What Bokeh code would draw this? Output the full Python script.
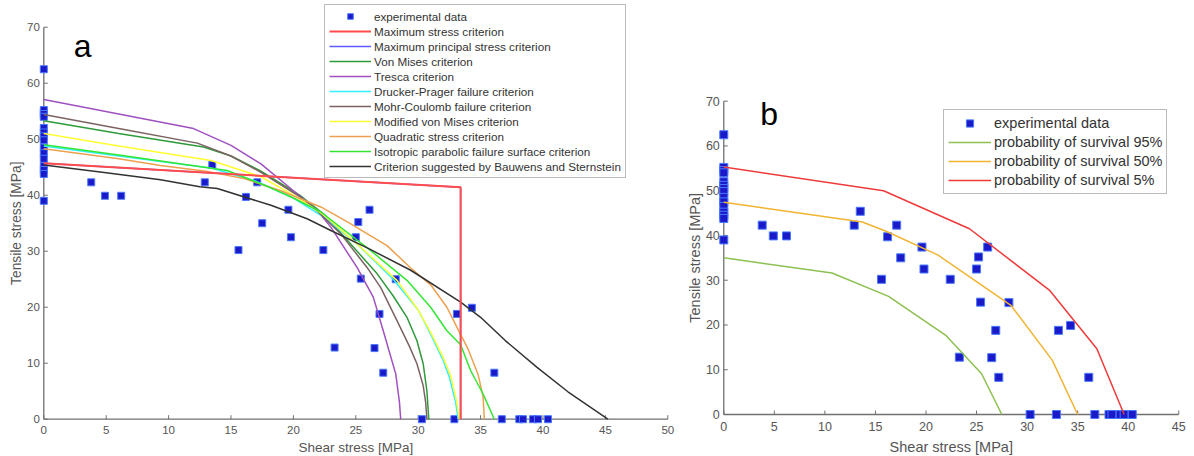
from bokeh.plotting import figure
from bokeh.models import Range1d, Legend, LegendItem, Label
from bokeh.layouts import row
from bokeh.core.properties import value
from bokeh.embed import file_html
from bokeh.resources import INLINE
import math

FONT = "Liberation Sans"

# ---------------- data ----------------
exp_x = [0, 0, 0, 0, 0, 0, 0, 0, 0, 0, 0, 0, 0, 0, 0,
         3.8, 4.9, 6.2, 12.9, 13.5, 15.6, 16.2, 17.1, 17.5, 19.6, 19.8, 22.4, 23.3,
         25.0, 25.2, 26.1, 25.4, 26.5, 26.9, 27.2, 28.2, 30.3, 32.9, 33.1, 34.3,
         36.1, 36.7, 38.1, 38.4, 39.2, 39.6, 40.4]
exp_y = [62.5, 55.2, 54.5, 54.0, 52.0, 51.2, 50.5, 49.8, 48.5, 47.5, 46.5, 45.2, 44.5, 43.8, 39.0,
         42.3, 39.9, 39.9, 42.3, 45.4, 30.2, 39.7, 42.3, 35.0, 37.4, 32.5, 30.2, 12.8,
         32.5, 35.2, 37.4, 25.1, 12.7, 18.8, 8.3, 25.0, 0, 0, 18.8, 19.9,
         8.3, 0, 0, 0, 0, 0, 0]

maxstress_x = [0, 33.4, 33.4]
maxstress_y = [45.7, 41.4, 0]

tresca_x = [0, 6, 12.0, 15.0, 17.4, 20.0, 21.9, 23.0, 25.1, 26.4, 27.2, 28.2, 28.5, 28.6]
tresca_y = [57.1, 54.5, 51.9, 48.9, 45.6, 40.8, 37.3, 34.3, 27.1, 21.8, 15.8, 8.1, 3.0, 0]

mohr_x = [0, 6, 12.3, 15.0, 17.4, 20.6, 22.0, 23.8, 25.9, 27.0, 28.3, 29.3, 29.9, 30.4, 30.6, 30.7]
mohr_y = [54.4, 51.9, 49.3, 47.0, 44.1, 39.6, 37.0, 33.1, 27.1, 23.5, 17.6, 13.0, 9.9, 6.0, 3.0, 0]

vonmises_x = [0, 6, 12.8, 15.0, 17.4, 20.5, 22.5, 24.5, 26.7, 28.0, 29.1, 29.9, 30.4, 30.7, 30.85]
vonmises_y = [53.3, 51.0, 48.6, 47.0, 44.3, 40.0, 36.5, 31.5, 26.0, 22.0, 18.2, 14.0, 9.9, 5.0, 0]

modvm_x = [0, 6, 13.4, 17.4, 20.0, 22.5, 25.0, 28.3, 30.0, 31.0, 32.0, 32.6, 33.1, 33.3]
modvm_y = [51.0, 48.8, 46.2, 43.3, 40.0, 36.4, 31.5, 24.8, 19.5, 15.5, 11.0, 7.8, 3.0, 0]

drucker_x = [0, 6, 13.5, 17.0, 20.0, 22.5, 25.0, 28.0, 30.0, 31.0, 32.0, 32.5, 33.0, 33.2]
drucker_y = [48.8, 47.0, 44.8, 42.5, 39.5, 36.0, 31.5, 25.0, 19.5, 15.2, 10.5, 7.5, 3.0, 0]

parab_x = [0, 6, 14.7, 18.0, 20.0, 22.2, 26.2, 29.1, 31.0, 32.3, 33.4, 34.2, 35.2, 36.1]
parab_y = [49.0, 47.2, 44.4, 41.5, 39.5, 37.0, 30.1, 24.8, 20.0, 15.8, 13.3, 8.7, 4.5, 0]

quad_x = [0, 6, 9.35, 13.0, 16.0, 19.0, 22.2, 24.5, 27.5, 29.4, 31.0, 32.3, 33.2, 34.0, 34.8, 35.2, 35.3]
quad_y = [48.3, 46.5, 45.3, 44.3, 43.0, 40.8, 37.9, 35.0, 31.0, 27.0, 24.0, 20.0, 16.0, 12.5, 8.0, 4.0, 0]

bauwens_x = [0, 5, 9.35, 12.5, 13.9, 18.2, 21.1, 23.0, 26.0, 29.4, 33.4, 35.0, 37.0, 39.5, 42.0, 45.2]
bauwens_y = [45.4, 44.0, 42.75, 41.5, 41.2, 38.2, 35.8, 33.7, 30.5, 26.6, 20.9, 18.2, 14.0, 9.3, 4.9, 0]

surv95_x = [0, 10.7, 16.3, 22.0, 25.5, 27.5]
surv95_y = [35.0, 31.6, 26.4, 17.6, 9.1, 0]
surv50_x = [0, 13.7, 16.0, 21.2, 28.4, 32.5, 35.0]
surv50_y = [47.4, 43.0, 41.0, 35.6, 24.4, 12.1, 0]
surv5_x = [0, 15.8, 24.3, 32.2, 36.9, 39.6]
surv5_y = [55.3, 50.0, 41.5, 27.8, 14.7, 0]

a_xticks = [0, 5, 10, 15, 20, 25, 30, 35, 40, 45, 50]
a_yticks = [0, 10, 20, 30, 40, 50, 60, 70]
b_xticks = [0, 5, 10, 15, 20, 25, 30, 35, 40, 45]
b_yticks = [0, 10, 20, 30, 40, 50, 60, 70]

a_labels = ["experimental data", "Maximum stress criterion", "Maximum principal stress criterion",
            "Von Mises criterion", "Tresca criterion", "Drucker-Prager failure criterion",
            "Mohr-Coulomb failure criterion", "Modified von Mises criterion",
            "Quadratic stress criterion", "Isotropic parabolic failure surface criterion",
            "Criterion suggested by Bauwens and Sternstein"]
b_labels = ["experimental data", "probability of survival 95%",
            "probability of survival 50%", "probability of survival 5%"]

AXC = "#707070"
TXC = "#555555"
SQ_FILL = "#1a1ac8"
SQ_LINE = "#4a78ff"
H = 455


def base(width, xr, yr):
    p = figure(width=width, height=H, x_range=Range1d(*xr), y_range=Range1d(*yr),
               output_backend="svg", toolbar_location=None,
               min_border_left=0, min_border_right=0, min_border_top=0, min_border_bottom=0)
    p.axis.visible = False
    p.xgrid.visible = False
    p.ygrid.visible = False
    p.outline_line_color = None
    return p


def axes(p, xt, yt, fs, xoff, yoff):
    # axis lines, inward ticks and tick labels drawn from the tick lists
    p.line([xt[0], xt[-1]], [0, 0], line_color=AXC, line_width=1.3)
    p.line([0, 0], [yt[0], yt[-1]], line_color=AXC, line_width=1.3)
    p.ray(x=xt, y=[0] * len(xt), length=4, angle=math.pi / 2, length_units="screen",
          line_color=AXC, line_width=1)
    p.ray(x=[0] * len(yt), y=yt, length=4, angle=0, length_units="screen",
          line_color=AXC, line_width=1)
    p.text(x=xt, y=[0] * len(xt), text=[str(t) for t in xt], text_font=value(FONT),
           text_font_size=value(fs), text_color=TXC, text_align="center",
           text_baseline="middle", y_offset=yoff)
    p.text(x=[0] * len(yt), y=yt, text=[str(t) for t in yt], text_font=value(FONT),
           text_font_size=value(fs), text_color=TXC, text_align="right",
           text_baseline="middle", x_offset=xoff)


# ---------------- plot a ----------------
pa = base(688, (-3.47, 51.66), (-6.48, 74.77))
axes(pa, a_xticks, a_yticks, "11.5px", -4, 11)

r_exp = pa.scatter(exp_x, exp_y, marker="square", size=7, fill_color=SQ_FILL,
                   line_color=SQ_LINE, line_width=1)
r_blue = pa.line(maxstress_x, maxstress_y, line_color="#5a5aff", line_width=1.5)
r_vm = pa.line(vonmises_x, vonmises_y, line_color="#2f9a3a", line_width=1.5)
r_tr = pa.line(tresca_x, tresca_y, line_color="#a050c0", line_width=1.5)
r_dp = pa.line(drucker_x, drucker_y, line_color="#33f0ff", line_width=1.5)
r_mc = pa.line(mohr_x, mohr_y, line_color="#7d6262", line_width=1.5)
r_mvm = pa.line(modvm_x, modvm_y, line_color="#ffff30", line_width=1.5)
r_q = pa.line(quad_x, quad_y, line_color="#eda050", line_width=1.5)
r_ip = pa.line(parab_x, parab_y, line_color="#33e633", line_width=1.5)
r_bs = pa.line(bauwens_x, bauwens_y, line_color="#333333", line_width=1.5)
r_red = pa.line(maxstress_x, maxstress_y, line_color="#ff4d4d", line_width=2)

leg_a = Legend(items=[LegendItem(label=l, renderers=[r]) for l, r in zip(
    a_labels, [r_exp, r_red, r_blue, r_vm, r_tr, r_dp, r_mc, r_mvm, r_q, r_ip, r_bs])],
    location=(324, 277), orientation="vertical",
    label_text_font=FONT, label_text_font_size="11.7px", label_text_color="#333333",
    glyph_width=42, glyph_height=14, label_height=14, label_standoff=3,
    spacing=1, padding=4, margin=0,
    border_line_color="#777777", border_line_width=1, background_fill_alpha=1)
pa.add_layout(leg_a, "center")

pa.add_layout(Label(x=2.4, y=66.7, text="a", text_font=FONT, text_font_size="32px",
                    text_color="black", text_baseline="alphabetic"))
pa.add_layout(Label(x=25, y=-5.05, text="Shear stress [MPa]", text_font=FONT,
                    text_font_size="13.5px", text_color=TXC, text_align="center",
                    text_baseline="middle"))
pa.add_layout(Label(x=-2.19, y=35, text="Tensile stress [MPa]", text_font=FONT,
                    text_font_size="13.8px", text_color=TXC, text_align="center",
                    text_baseline="middle", angle=math.pi / 2))

# ---------------- plot b ----------------
pb = base(504, (-3.49, 46.36), (-9.16, 92.49))
axes(pb, b_xticks, b_yticks, "12.5px", -4, 12)

rb_exp = pb.scatter(exp_x, exp_y, marker="square", size=8, fill_color=SQ_FILL,
                    line_color=SQ_LINE, line_width=1)
rb95 = pb.line(surv95_x, surv95_y, line_color="#8cc050", line_width=1.5)
rb50 = pb.line(surv50_x, surv50_y, line_color="#f0b432", line_width=1.5)
rb5 = pb.line(surv5_x, surv5_y, line_color="#f03a3a", line_width=1.5)

leg_b = Legend(items=[LegendItem(label=l, renderers=[r]) for l, r in zip(
    b_labels, [rb_exp, rb95, rb50, rb5])],
    location=(255, 261), orientation="vertical",
    label_text_font=FONT, label_text_font_size="14.5px", label_text_color="#333333",
    glyph_width=43, glyph_height=18, label_height=18, label_standoff=3,
    spacing=1, padding=4, margin=0,
    border_line_color="#777777", border_line_width=1, background_fill_alpha=1)
pb.add_layout(leg_b, "center")

pb.add_layout(Label(x=3.6, y=67.2, text="b", text_font=FONT, text_font_size="32px",
                    text_color="black", text_baseline="alphabetic"))
pb.add_layout(Label(x=22.5, y=-7.26, text="Shear stress [MPa]", text_font=FONT,
                    text_font_size="14.5px", text_color=TXC, text_align="center",
                    text_baseline="middle"))
pb.add_layout(Label(x=-2.8, y=35, text="Tensile stress [MPa]", text_font=FONT,
                    text_font_size="14.5px", text_color=TXC, text_align="center",
                    text_baseline="middle", angle=math.pi / 2))

layout = row(pa, pb)
open("out.html", "w").write(file_html(layout, INLINE))
